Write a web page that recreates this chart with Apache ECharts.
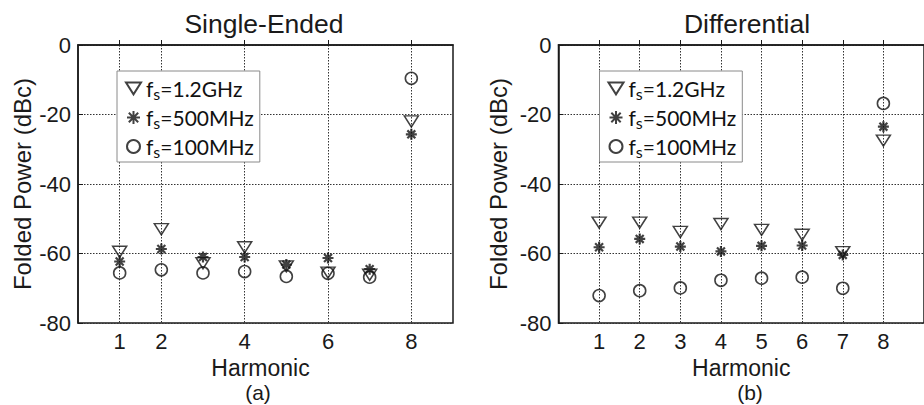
<!DOCTYPE html>
<html>
<head>
<meta charset="utf-8">
<script src="https://cdn.jsdelivr.net/npm/echarts@6/dist/echarts.min.js"></script>
<style>html,body{margin:0;padding:0;background:#fff;}#chart{width:924px;height:405px;}</style>
</head>
<body>
<div id="chart"></div>
<script>
// ---- data ----
const harmonics = [1, 2, 3, 4, 5, 6, 7, 8];
const seriesNames = ['fs=1.2GHz', 'fs=500MHz', 'fs=100MHz'];
// (a) Single-Ended, folded power in dBc
const seFs1200 = [-59.5, -53.0, -62.8, -58.2, -63.7, -65.5, -66.1, -22.0];
const seFs500  = [-62.3, -58.7, -61.0, -61.0, -63.2, -61.3, -64.5, -25.7];
const seFs100  = [-65.6, -64.7, -65.6, -65.2, -66.6, -65.7, -66.8, -9.6];
// (b) Differential
const dfFs1200 = [-51.1, -51.1, -53.8, -51.5, -53.2, -54.6, -59.6, -27.5];
const dfFs500  = [-58.2, -55.8, -58.0, -59.4, -57.8, -57.7, -60.4, -23.5];
const dfFs100  = [-72.1, -70.7, -69.9, -67.7, -67.1, -66.8, -70.0, -16.8];
// tick labels
const xTicksA = [1, 2, 4, 6, 8];
const xTicksB = [1, 2, 3, 4, 5, 6, 7, 8];
const yTicks = [0, -20, -40, -60, -80];
const titles = ['Single-Ended', 'Differential'];
const captions = ['(a)', '(b)'];
const xName = 'Harmonic';
const yName = 'Folded Power (dBc)';

// ---- styling ----
const ink = '#1a1a1a';
const axisFont = 'Liberation Sans';
const gridLine = { color: '#333', type: [1.5, 1.5], width: 1 };
const symTri = 'path://M0,0L14,0L7,11Z';
const symStar = 'path://M5,0L5,10M0,5L10,5M1.4,1.4L8.6,8.6M1.4,8.6L8.6,1.4';
const symbols = [symTri, symStar, 'circle'];
const symSizes = [[14, 11], 11, 12];
const symWidths = [1.5, 2.2, 1.6];

function pairs(vals) { return harmonics.map((h, i) => [h, vals[i]]); }

function mkX(gi, ticks) {
  return {
    type: 'value', gridIndex: gi, min: 0, max: 9,
    name: xName, nameLocation: 'middle', nameGap: 27,
    nameTextStyle: { fontSize: 23, color: ink, fontFamily: axisFont, padding: gi === 0 ? [0, 10, 0, 0] : [0, 0, 0, 0] },
    axisLine: { show: true, lineStyle: { color: ink, width: 1.5 } },
    axisTick: { show: true, inside: true, length: 5, customValues: ticks, lineStyle: { color: ink } },
    axisLabel: { customValues: ticks, fontSize: 22, color: ink, fontFamily: axisFont, margin: 7 },
    splitLine: { show: true, lineStyle: gridLine }
  };
}
function mkY(gi, gap) {
  return {
    type: 'value', gridIndex: gi, min: -80, max: 0, interval: 20,
    name: yName, nameLocation: 'middle', nameGap: gap,
    nameTextStyle: { fontSize: 24, color: ink, fontFamily: axisFont },
    axisLine: { show: true, lineStyle: { color: ink, width: 1.5 } },
    axisTick: { show: true, inside: true, length: 5, lineStyle: { color: ink } },
    axisLabel: { fontSize: 22, color: ink, fontFamily: axisFont, margin: 7,
      formatter: v => yTicks.includes(v) ? String(v) : '' },
    splitLine: { show: true, lineStyle: gridLine }
  };
}
function mkSeries(gi, arrs) {
  return arrs.map((vals, k) => ({
    type: 'scatter', name: seriesNames[k], xAxisIndex: gi, yAxisIndex: gi,
    data: pairs(vals), symbol: symbols[k], symbolSize: symSizes[k],
    itemStyle: { color: 'transparent', borderColor: '#111', borderWidth: symWidths[k] },
    emphasis: { disabled: true }, z: 3 - k + 2
  }));
}
function mkLegend(left) {
  return {
    orient: 'vertical', left: left, top: 71, data: seriesNames,
    backgroundColor: '#fff', borderColor: '#8a8a8a', borderWidth: 1,
    padding: [5, 6, 3, 8], itemGap: 4, itemWidth: 15, itemHeight: 13,
    selectedMode: false,
    formatter: n => '{a|f}{b|s}{a|' + n.slice(2) + '}',
    textStyle: {
      rich: {
        a: { fontSize: 21, fontFamily: 'Lato', color: '#111', lineHeight: 25 },
        b: { fontSize: 16, fontFamily: 'Lato', color: '#111', lineHeight: 25, verticalAlign: 'bottom', padding: [9, 0, 0, 0] }
      }
    }
  };
}

const chart = echarts.init(document.getElementById('chart'), null, { renderer: 'svg' });
chart.setOption({
  backgroundColor: '#fff',
  animation: false,
  grid: [
    { left: 78, top: 45, width: 375, height: 278, show: true, borderColor: ink, borderWidth: 1.5, backgroundColor: 'transparent' },
    { left: 558.5, top: 45, width: 374.5, height: 278, show: true, borderColor: ink, borderWidth: 1.5, backgroundColor: 'transparent' }
  ],
  xAxis: [mkX(0, xTicksA), mkX(1, xTicksB)],
  yAxis: [mkY(0, 44), mkY(1, 48)],
  legend: [mkLegend(117), mkLegend(599.5)],
  series: mkSeries(0, [seFs1200, seFs500, seFs100]).concat(mkSeries(1, [dfFs1200, dfFs500, dfFs100])),
  graphic: [
    { type: 'text', x: 264, y: 24, style: { text: titles[0], font: '26.5px "Liberation Sans"', fill: ink, textAlign: 'center', textVerticalAlign: 'middle' } },
    { type: 'text', x: 747, y: 24, style: { text: titles[1], font: '26.5px "Liberation Sans"', fill: ink, textAlign: 'center', textVerticalAlign: 'middle' } },
    { type: 'text', x: 258, y: 392, style: { text: captions[0], font: '21px "Liberation Sans"', fill: ink, textAlign: 'center', textVerticalAlign: 'middle' } },
    { type: 'text', x: 750, y: 392, style: { text: captions[1], font: '21px "Liberation Sans"', fill: ink, textAlign: 'center', textVerticalAlign: 'middle' } }
  ]
});
</script>
</body>
</html>
